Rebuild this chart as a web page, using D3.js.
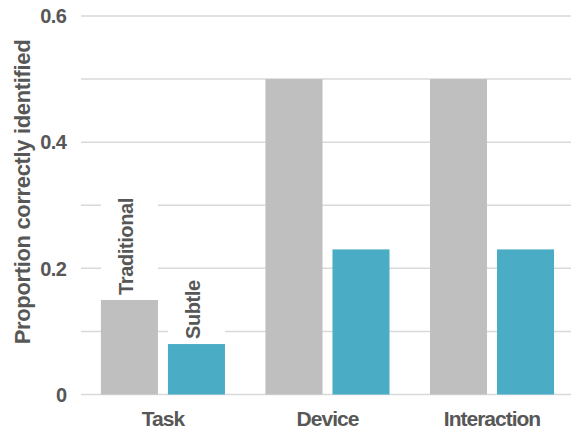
<!DOCTYPE html>
<html>
<head>
<meta charset="utf-8">
<script src="https://cdn.jsdelivr.net/npm/d3@7"></script>
<style>
  body { margin: 0; background: #fff; }
  svg { display: block; font-family: "Liberation Sans", Arial, sans-serif; font-weight: bold; }
</style>
</head>
<body>
<div id="wrapper"></div>
<script>
const categories = ["Task", "Device", "Interaction"];
const series = ["Traditional", "Subtle"];
const traditionalValues = [0.15, 0.5, 0.5];
const subtleValues = [0.08, 0.23, 0.23];
const gridTicks = [0, 0.1, 0.2, 0.3, 0.4, 0.5, 0.6];
const labelTicks = [0, 0.2, 0.4, 0.6];
const yTitle = "Proportion correctly identified";

const width = 571;
const height = 431;
const textColor = "#575757";
const seriesColor = d3.scaleOrdinal().domain(series).range(["#bfbfbf", "#4bacc6"]);

const rows = categories.map((c, i) => ({
  category: c,
  values: [
    { series: "Traditional", value: traditionalValues[i] },
    { series: "Subtle", value: subtleValues[i] }
  ]
}));

const svg = d3.select("#wrapper")
  .append("svg")
  .attr("width", width)
  .attr("height", height);

const plotLeft = 81;
const plotRight = 571;

let x0 = d3.scaleBand()
  .domain(categories)
  .range([plotLeft, plotRight])
  .paddingInner(0.246)
  .paddingOuter(0.112)
  .align(0.54);

let x1 = d3.scaleBand()
  .domain(series)
  .range([0, x0.bandwidth()])
  .paddingInner(0.149);

let y = d3.scaleLinear()
  .domain([0, 0.6])
  .range([394.5, 16]);

// gridlines
svg.append("g")
  .selectAll("line")
  .data(gridTicks)
  .join("line")
  .attr("x1", plotLeft)
  .attr("x2", plotRight)
  .attr("y1", d => y(d))
  .attr("y2", d => y(d))
  .attr("stroke", "#d9d9d9")
  .attr("stroke-width", 1.5);

// tick labels
svg.append("g")
  .selectAll("text")
  .data(labelTicks)
  .join("text")
  .attr("x", 66.5)
  .attr("y", d => y(d))
  .attr("dy", "0.36em")
  .attr("text-anchor", "end")
  .attr("font-size", 20)
  .attr("letter-spacing", -0.5)
  .attr("fill", textColor)
  .text(d => d === 0 ? "0" : d3.format(".1f")(d));

// y title
svg.append("text")
  .attr("transform", "translate(30, 192) rotate(-90)")
  .attr("text-anchor", "middle")
  .attr("font-size", 22)
  .attr("letter-spacing", -0.35)
  .attr("fill", textColor)
  .text(yTitle);

// bars
let groups = svg.append("g")
  .selectAll("g")
  .data(rows)
  .join("g")
  .attr("transform", d => `translate(${x0(d.category)}, 0)`);

groups.selectAll("rect")
  .data(d => d.values)
  .join("rect")
  .attr("x", d => x1(d.series))
  .attr("y", d => y(d.value))
  .attr("width", x1.bandwidth())
  .attr("height", d => y(0) - y(d.value))
  .attr("fill", d => seriesColor(d.series));

// series labels over the first group, with a white box hiding gridlines
let labelGroup = svg.append("g")
  .attr("transform", `translate(${x0(categories[0])}, 0)`);

rows[0].values.forEach(d => {
  let cx = x1(d.series) + x1.bandwidth() / 2;
  let top = y(d.value);
  let box = labelGroup.append("rect")
    .attr("fill", "#fff");
  let t = labelGroup.append("text")
    .attr("transform", `translate(${cx + 4}, ${top - 5}) rotate(-90)`)
    .attr("font-size", 20)
    .attr("letter-spacing", -0.4)
    .attr("fill", textColor)
    .text(d.series);
  let len = t.node().getComputedTextLength();
  box.attr("x", x1(d.series))
    .attr("width", x1.bandwidth())
    .attr("y", top - len - 9)
    .attr("height", len + 9);
});

// category labels
svg.append("g")
  .selectAll("text")
  .data(categories)
  .join("text")
  .attr("x", d => x0(d) + x0.bandwidth() / 2)
  .attr("y", 425.5)
  .attr("text-anchor", "middle")
  .attr("font-size", 21)
  .attr("letter-spacing", -1)
  .attr("fill", textColor)
  .text(d => d);
</script>
</body>
</html>
